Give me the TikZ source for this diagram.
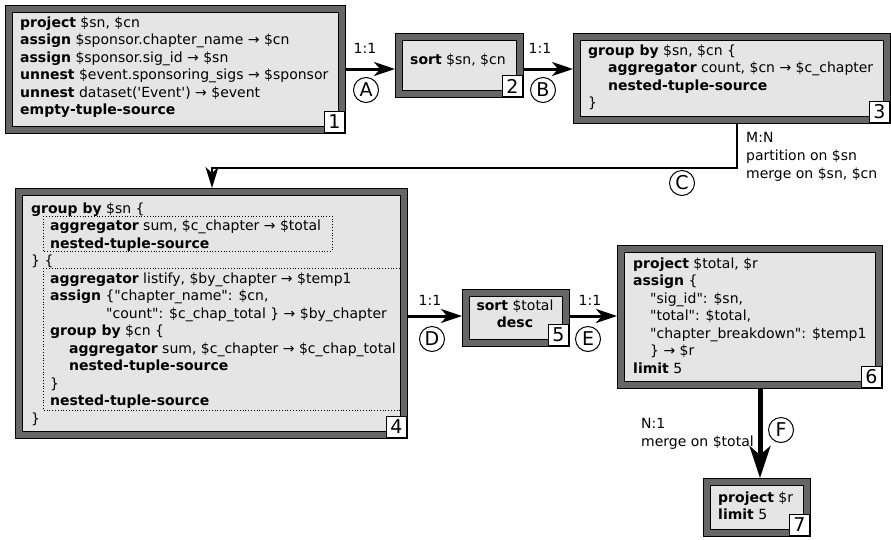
\documentclass[tikz,border=0pt]{standalone}
\usepackage{fontspec}
\setmainfont{DejaVu Sans}[Ligatures=TeXOff]
\usetikzlibrary{arrows.meta,fit}
\definecolor{band}{HTML}{666666}
\definecolor{panel}{HTML}{E5E5E5}

\tikzset{
  outerbox/.style={draw=black, fill=band, line width=1pt, inner sep=0pt, outer sep=0pt},
  innerbox/.style={draw=black, fill=panel, line width=1pt},
  % text blocks hang from the top of a 12pt strut on their first line
  code/.style={anchor=north west, align=left, inner sep=0pt,
    font=\fontsize{14}{17.5}\selectfont, execute at begin node={\rule{0pt}{12pt}}},
  numbox/.style={draw=black, fill=white, line width=1pt, minimum width=20pt,
    minimum height=21pt, inner sep=0pt, anchor=south east,
    font=\fontsize{19}{19}\selectfont},
  ratio/.style={font=\fontsize{14}{14}\selectfont, inner sep=0pt},
  note/.style={anchor=north west, align=left, inner sep=0pt,
    font=\fontsize{14}{18}\selectfont, execute at begin node={\rule{0pt}{12pt}}},
  tag/.style={circle, draw=black, line width=1pt, minimum size=25pt, inner sep=0pt,
    font=\fontsize{19}{19}\selectfont},
  flow/.style={line width=3pt, -{Stealth[length=21pt, width=14pt, inset=6pt]}},
  flowthin/.style={line width=2pt, miter limit=10,
    -{Stealth[length=21pt, width=13pt, inset=6pt]}},
  flowthick/.style={line width=5pt, -{Stealth[length=32pt, width=21pt, inset=9pt]}},
  inset/.style={draw=black, line width=0.8pt, dotted}
}

% operator frame: outer band, light panel, number tag
\newcommand\opframe[6]{%
  \node[outerbox, fit={(#2,#3) (#4,#5)}] (#1) {};
  \draw[innerbox] ([shift={(7,7)}]#1.north west) rectangle ([shift={(-7,-7)}]#1.south east);
  \node[numbox] (#1n) at (#1.south east) {#6};
}

\begin{document}
\begin{tikzpicture}[x=1pt, y=-1pt]
\useasboundingbox (0,0) rectangle (891,539);

% operator 1
\opframe{b1}{5}{5}{345}{133}{1}
\node[code] (t1) at (20,16.5) {%
\textbf{project} \$sn, \$cn\\
\textbf{assign} \$sponsor.chapter\_name → \$cn\\
\textbf{assign} \$sponsor.sig\_id → \$sn\\
\textbf{unnest} \$event.sponsoring\_sigs → \$sponsor\\
\textbf{unnest} dataset('Event') → \$event\\
\textbf{empty-tuple-source}};

% operator 2
\opframe{b2}{395}{33}{523}{97}{2}
\node[code] (t2) at (410,52.5) {\textbf{sort} \$sn, \$cn};

% operator 3
\opframe{b3}{573}{33}{890}{123}{3}
\node[code] (t3) at (588,44.5) {%
\textbf{group by} \$sn, \$cn \{\\
\hspace*{20pt}\textbf{aggregator} count, \$cn → \$c\_chapter\\
\hspace*{20pt}\textbf{nested-tuple-source}\\
\}};

% operator 4
\opframe{b4}{15}{188}{407}{438}{4}
\draw[inset] (43,216) rectangle (332,251);
\draw[inset] (43,268) rectangle (400,410);
\node[code] (t4) at (31,202.5) {%
\textbf{group by} \$sn \{\\
\hspace*{19pt}\textbf{aggregator} sum, \$c\_chapter → \$total\\
\hspace*{19pt}\textbf{nested-tuple-source}\\
\} \{\\
\hspace*{19pt}\textbf{aggregator} listify, \$by\_chapter → \$temp1\\
\hspace*{19pt}\textbf{assign} \{"chapter\_name": \$cn,\\
\hspace*{75pt}"count": \$c\_chap\_total \} → \$by\_chapter\\
\hspace*{19pt}\textbf{group by} \$cn \{\\
\hspace*{38pt}\textbf{aggregator} sum, \$c\_chapter → \$c\_chap\_total\\
\hspace*{38pt}\textbf{nested-tuple-source}\\
\hspace*{19pt}\}\\
\hspace*{19pt}\textbf{nested-tuple-source}\\
\}};

% operator 5
\opframe{b5}{462}{289}{569}{346}{5}
\node[code, anchor=north, align=center] (t5) at (515,299.5) {%
\textbf{sort} \$total\\
\textbf{desc}};

% operator 6
\opframe{b6}{617}{245}{882}{388}{6}
\node[code] (t6) at (633,257.5) {%
\textbf{project} \$total, \$r\\
\textbf{assign} \{\\
\hspace*{17pt}"sig\_id": \$sn,\\
\hspace*{17pt}"total": \$total,\\
\hspace*{17pt}"chapter\_breakdown": \$temp1\\
\hspace*{17pt}\} → \$r\\
\textbf{limit} 5};

% operator 7
\opframe{b7}{703}{478}{810}{536}{7}
\node[code] (t7) at (718,491.5) {%
\textbf{project} \$r\\
\textbf{limit} 5};

% connector A
\coordinate (yA) at (0,69);
\draw[flow] (b1.east |- yA) -- (b2.west |- yA);
\node[ratio] (rA) at (365,48) {1:1};
\node[tag] (cA) at (366,90) {A};

% connector B
\draw[flow] (b2.east |- yA) -- (b3.west |- yA);
\node[ratio] (rB) at (540,48) {1:1};
\node[tag] (cB) at (543,90) {B};

% connector C
\coordinate (c1) at (737,168);
\coordinate (c2) at (212,168);
\draw[flowthin] (b3.south -| c1) -- (c1) -- (c2) -- (b4.north -| c2);
\node[note] (nC) at (746,132) {M:N\\partition on \$sn\\merge on \$sn, \$cn};
\node[tag] (cC) at (682,183) {C};

% connector D
\coordinate (yD) at (0,316);
\draw[flow] (b4.east |- yD) -- (b5.west |- yD);
\node[ratio] (rD) at (430,300) {1:1};
\node[tag] (cD) at (432,339) {D};

% connector E
\draw[flow] (b5.east |- yD) -- (b6.west |- yD);
\node[ratio] (rE) at (590,300) {1:1};
\node[tag] (cE) at (588,339) {E};

% connector F
\coordinate (xF) at (760,0);
\draw[flowthick] (b6.south -| xF) -- (b7.north -| xF);
\node[note] (nF) at (641,418) {N:1\\merge on \$total};
\node[tag] (cF) at (781,430) {F};
\end{tikzpicture}
\end{document}
